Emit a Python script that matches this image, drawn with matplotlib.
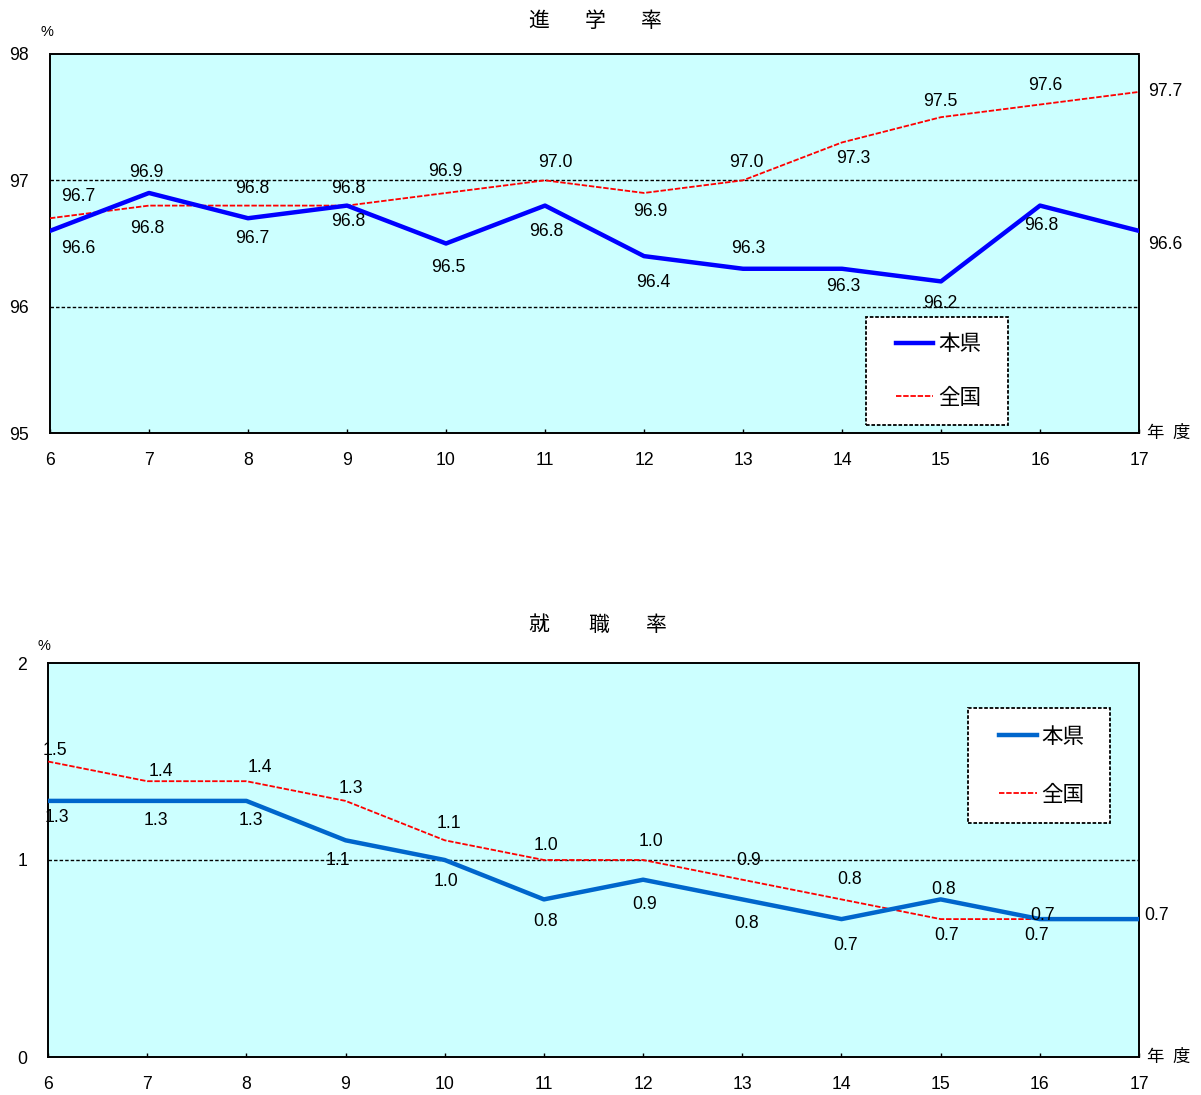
import matplotlib
matplotlib.use("Agg")
import matplotlib.pyplot as plt
from matplotlib.lines import Line2D
from matplotlib.legend_handler import HandlerLine2D

plt.rcParams['font.family'] = ['Liberation Sans', 'Noto Sans CJK JP', 'DejaVu Sans']
CJK = ['Noto Sans CJK JP', 'DejaVu Sans']

# 年度
years = [6, 7, 8, 9, 10, 11, 12, 13, 14, 15, 16, 17]

# 進学率 (%)
shingaku_ken = [96.6, 96.9, 96.7, 96.8, 96.5, 96.8, 96.4, 96.3, 96.3, 96.2, 96.8, 96.6]
shingaku_zenkoku = [96.7, 96.8, 96.8, 96.8, 96.9, 97.0, 96.9, 97.0, 97.3, 97.5, 97.6, 97.7]

# 就職率 (%)
shushoku_ken = [1.3, 1.3, 1.3, 1.1, 1.0, 0.8, 0.9, 0.8, 0.7, 0.8, 0.7, 0.7]
shushoku_zenkoku = [1.5, 1.4, 1.4, 1.3, 1.1, 1.0, 1.0, 0.9, 0.8, 0.7, 0.7, 0.7]

series_names = ['本県', '全国']
titles = ['進学率', '就職率']

# label offsets in pixels (dx, dy) for each value label; None = no label
off_sk = [(28, -18), (-3, 20), (4, -20), (1, -16), (2, -24), (1, -26),
          (9, -26), (5, 20), (1, -18), (-1, -22), (1, -20), (26, -14)]
off_sz = [(28, 22), (-2, -23), (4, 17), (1, 17), (-1, 21), (10, 18),
          (6, -19), (3, 18), (11, -16), (-1, 16), (5, 19), (26, 0)]
off_jk = [(9, -17), (9, -20), (5, -20), (-8, -20), (1, -21), (2, -22),
          (2, -25), (4, -24), (4, -26), (3, 10), (3, 4), (18, 4)]
off_jz = [(7, 11), (14, 10), (14, 14), (5, 12), (4, 17), (2, 15),
          (8, 19), (6, 19), (8, 20), (6, -16), (-3, -16), None]

BG = '#CCFFFF'
RED = '#FF0000'
LABEL_SIZE = 12.7
LEG_SIZE = 15.5

W, H = 1201, 1095
fig = plt.figure(figsize=(W / 100, H / 100), dpi=100)


def frac_x(px):
    return px / W


def frac_y(py):
    return 1 - py / H


class InsetLine(HandlerLine2D):
    """Legend line that leaves a gap on the left side of the handle box."""

    def __init__(self, gap, **kw):
        super().__init__(**kw)
        self.gap = gap

    def create_artists(self, legend, orig_handle, xdescent, ydescent,
                       width, height, fontsize, trans):
        arts = super().create_artists(legend, orig_handle, xdescent, ydescent,
                                      width, height, fontsize, trans)
        for a in arts:
            if isinstance(a, Line2D) and len(a.get_xdata()) > 1:
                xd = list(a.get_xdata())
                a.set_xdata([xd[0] + self.gap * width, xd[-1]])
                a.set_ydata([a.get_ydata()[0]] * 2)
        return arts


def make_axes(left, right, top, bottom):
    return fig.add_axes([frac_x(left), frac_y(bottom),
                         frac_x(right - left), (bottom - top) / H])


def style_axes(ax, ylim, yticks):
    ax.set_facecolor(BG)
    ax.set_xlim(6, 17)
    ax.set_ylim(*ylim)
    ax.set_xticks(years)
    ax.set_yticks(yticks)
    ax.set_yticklabels([str(t) for t in yticks])
    ax.tick_params(axis='x', direction='in', length=3, width=1, pad=14,
                   labelsize=LABEL_SIZE, top=False)
    ax.tick_params(axis='y', length=0, pad=15, labelsize=LABEL_SIZE)
    for sp in ax.spines.values():
        sp.set_linestyle((0, (2, 1)))
        sp.set_linewidth(1.4)
        sp.set_color('black')
    for t in yticks[1:-1]:
        ax.axhline(t, color='black', lw=1.0, ls=(0, (2.5, 1.5)), zorder=1)


def label_values(ax, xs, ys, offsets, fmt='{:.1f}'):
    for x, y, off in zip(xs, ys, offsets):
        if off is None:
            continue
        ax.annotate(fmt.format(y), (x, y), xytext=off, textcoords='offset pixels',
                    ha='center', va='center', fontsize=LABEL_SIZE, color='black',
                    annotation_clip=False, zorder=5)


def legend_box(ax, box_px, axes_px, spacing, pad):
    """box_px: (left, top, right, bottom) in figure pixels; axes_px likewise."""
    l, t, r, b = box_px
    al, at, ar, ab = axes_px
    aw, ah = ar - al, ab - at
    anchor = ((l - al) / aw, (ab - b) / ah, (r - l) / aw, (b - t) / ah)
    h, lab = ax.get_legend_handles_labels()
    leg = ax.legend([h[1], h[0]], [lab[1], lab[0]], loc='upper left',
                    bbox_to_anchor=anchor, mode='expand', borderaxespad=0,
                    prop={'family': CJK, 'size': LEG_SIZE},
                    handlelength=2.37, handletextpad=0.23, borderpad=pad,
                    labelspacing=spacing, fancybox=False, framealpha=1,
                    facecolor='white', edgecolor='black',
                    handler_map={Line2D: InsetLine(0.27)})
    fr = leg.get_frame()
    fr.set_linestyle((0, (2, 1)))
    fr.set_linewidth(1.3)
    leg.set_zorder(6)
    return leg


def spaced_title(text, centers, y):
    for ch, cx in zip(text, centers):
        fig.text(frac_x(cx), frac_y(y), ch, ha='center', va='center',
                 fontsize=15, family=CJK)


# ---- 進学率 ----
AX1 = (50, 54, 1139, 433)
ax1 = make_axes(AX1[0], AX1[2], AX1[1], AX1[3])
style_axes(ax1, (95, 98), [95, 96, 97, 98])
ax1.plot(years, shingaku_zenkoku, color=RED, lw=1.3, ls=(0, (3, 1)),
         label=series_names[1], zorder=3)
ax1.plot(years, shingaku_ken, color='#0000FF', lw=3.2, label=series_names[0],
         zorder=4)
label_values(ax1, years, shingaku_ken, off_sk)
label_values(ax1, years, shingaku_zenkoku, off_sz)
legend_box(ax1, (866, 317, 1008, 423), AX1, 1.48, 0.75)

# ---- 就職率 ----
AX2 = (48, 663, 1139, 1057)
ax2 = make_axes(AX2[0], AX2[2], AX2[1], AX2[3])
style_axes(ax2, (0, 2), [0, 1, 2])
ax2.plot(years, shushoku_zenkoku, color=RED, lw=1.3, ls=(0, (3, 1)),
         label=series_names[1], zorder=3)
ax2.plot(years, shushoku_ken, color='#0066CC', lw=3.2, label=series_names[0],
         zorder=4)
label_values(ax2, years, shushoku_ken, off_jk)
label_values(ax2, years, shushoku_zenkoku, off_jz)
legend_box(ax2, (968, 708, 1110, 823), AX2, 1.68, 0.82)

# titles and unit labels
spaced_title(titles[0], [539, 595, 651], 21)
spaced_title(titles[1], [539, 599, 656], 625)
fig.text(frac_x(47), frac_y(32), '%', ha='center', va='center', fontsize=10.5)
fig.text(frac_x(44), frac_y(646), '%', ha='center', va='center', fontsize=10.5)
fig.text(frac_x(1169), frac_y(433), '年\u2002度', ha='center', va='center',
         fontsize=12.5, family=CJK)
fig.text(frac_x(1169), frac_y(1057), '年\u2002度', ha='center', va='center',
         fontsize=12.5, family=CJK)

fig.savefig('out.png', dpi=100)
